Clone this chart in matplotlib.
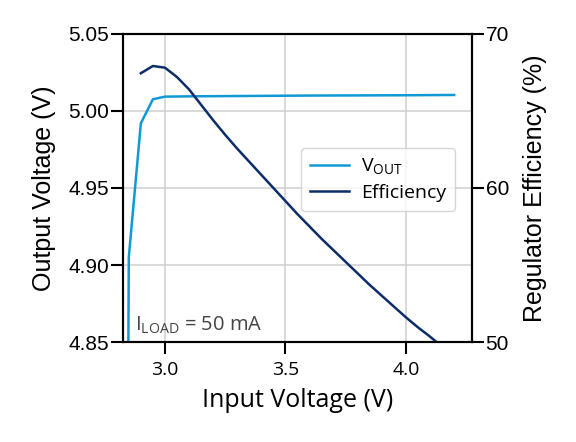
import matplotlib
matplotlib.use("Agg")
import matplotlib.pyplot as plt

# ---- dati ----
vin_out = [2.84, 2.85, 2.90, 2.95, 3.00, 3.10, 3.20, 3.40, 3.60, 3.80, 4.00, 4.20]
vout = [4.60, 4.905, 4.992, 5.0076, 5.0093, 5.0095, 5.0096, 5.0098, 5.0100, 5.0101, 5.0102, 5.0104]

vin_eff = [2.90, 2.95, 3.00, 3.05, 3.10, 3.15, 3.20, 3.25, 3.30, 3.35, 3.40, 3.45,
           3.50, 3.55, 3.60, 3.65, 3.70, 3.75, 3.80, 3.85, 3.90, 3.95, 4.00, 4.05,
           4.10, 4.15, 4.20]
efficiency = [67.45, 67.92, 67.81, 67.2, 66.4, 65.4, 64.4, 63.45, 62.55, 61.7, 60.85, 60.0,
              59.15, 58.3, 57.5, 56.7, 55.95, 55.2, 54.45, 53.7, 53.0, 52.3, 51.6, 50.95,
              50.35, 49.7, 49.05]

c_vout = '#0f9ad6'
c_eff = '#0c2d69'
geo_font = 'Open Sans'
y_font = 'Liberation Sans'

plt.rcParams['font.family'] = [geo_font, 'DejaVu Sans']

fig = plt.figure(figsize=(5.76, 4.42), dpi=100)
ax = fig.add_axes([0.214, 0.2262, 0.605, 0.697])
ax2 = ax.twinx()

l1, = ax.plot(vin_out, vout, color=c_vout, linewidth=1.8, label=r'V$_\mathregular{OUT}$')
l2, = ax2.plot(vin_eff, efficiency, color=c_eff, linewidth=1.8, label='Efficiency')

ax.set_xlim(2.827, 4.273)
ax.set_ylim(4.85, 5.05)
ax2.set_ylim(50, 70)

ax.set_xticks([3.0, 3.5, 4.0])
ax.set_xticklabels(['3.0', '3.5', '4.0'], fontsize=14)
ax.set_yticks([4.85, 4.90, 4.95, 5.00, 5.05])
ax.set_yticklabels(['4.85', '4.90', '4.95', '5.00', '5.05'], fontfamily=y_font, fontsize=15)
ax2.set_yticks([50, 60, 70])
ax2.set_yticklabels(['50', '60', '70'], fontfamily=y_font, fontsize=15)

ax.grid(True, color='#d0d0d0', linewidth=1.1)
ax.set_axisbelow(True)

for a in (ax, ax2):
    for s in a.spines.values():
        s.set_linewidth(1.5)
    a.tick_params(length=8.5, width=1.5, pad=1.5)
ax.tick_params(axis='x', pad=5)

ax.set_xlabel('Input Voltage (V)', fontsize=18, labelpad=7)
ax.set_ylabel('Output Voltage (V)', fontsize=18, fontfamily=y_font, labelpad=9)
ax2.set_ylabel('Regulator Efficiency (%)', fontsize=18, fontfamily=y_font, labelpad=10)

ax.text(0.033, 0.036, r'I$_\mathregular{LOAD}$ = 50 mA', transform=ax.transAxes,
        fontsize=14.5, color='#444444', ha='left', va='baseline')

ax2.legend([l1, l2], [l1.get_label(), l2.get_label()], loc='upper right',
           bbox_to_anchor=(0.952, 0.63), borderaxespad=0, fontsize=14,
           handlelength=2.0, handletextpad=0.65, borderpad=0.45, labelspacing=0.35)

fig.savefig('out.png', dpi=100)
